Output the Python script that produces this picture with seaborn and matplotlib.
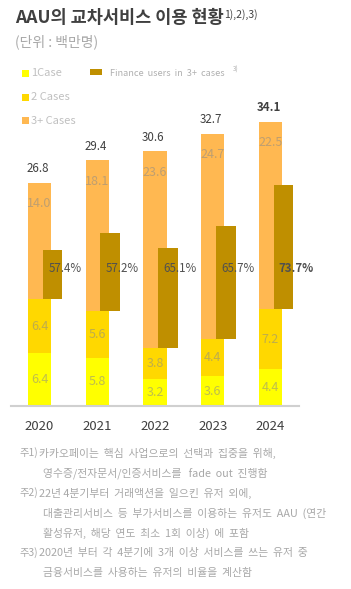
import matplotlib

matplotlib.use("Agg")
import matplotlib.pyplot as plt
import numpy as np
import seaborn as sns
from matplotlib.patches import Rectangle

# ==============================================================================
# DATA (unit: million users)
# ==============================================================================
years = ["2020", "2021", "2022", "2023", "2024"]
one_case = [6.4, 5.8, 3.2, 3.6, 4.4]
two_cases = [6.4, 5.6, 3.8, 4.4, 7.2]
three_plus = [14.0, 18.1, 23.6, 24.7, 22.5]
totals = [26.8, 29.4, 30.6, 32.7, 34.1]
finance_pct = [57.4, 57.2, 65.1, 65.7, 73.7]
# length of the finance marker bar as drawn in the source (stack units)
finance_len = [5.9, 9.4, 12.0, 13.6, 15.0]

legend_labels = ["1Case", "2 Cases", "3+ Cases"]
finance_label = "Finance  users  in  3+  cases"

title = "AAU의 교차서비스 이용 현황"
title_sup = "1),2),3)"
subtitle = "(단위 : 백만명)"
notes = [
    ("주1)", "카카오페이는  핵심  사업으로의  선택과  집중을  위해,"),
    ("", "영수증/전자문서/인증서비스를   fade  out  진행함"),
    ("주2)", "22년 4분기부터  거래액션을  일으킨  유저  외에,"),
    ("", "대출관리서비스  등  부가서비스를  이용하는  유저도  AAU  (연간"),
    ("", "활성유저,  해당  연도  최소  1회  이상)  에  포함"),
    ("주3)", "2020년  부터  각  4분기에  3개  이상  서비스를  쓰는  유저  중"),
    ("", "금융서비스를  사용하는  유저의  비율을  계산함"),
]

# ==============================================================================
# STYLE
# ==============================================================================
C_ONE = "#FFFF00"
C_TWO = "#FFD800"
C_THREE = "#FFB851"
C_FIN = "#BF8F00"
W, H = 351, 589

sns.set_theme(style="white")
plt.rcParams["font.family"] = ["Noto Sans CJK KR", "DejaVu Sans"]


def fx(px):
    return px / W


def fy(py):
    return 1 - py / H


fig = plt.figure(figsize=(W / 100, H / 100), dpi=100)
ax = fig.add_axes([fx(11), 183 / H, 288 / W, 333 / H])

one = np.array(one_case)
c2 = one + np.array(two_cases)
c3 = c2 + np.array(three_plus)

# stacked bars drawn back to front (cumulative heights)
for vals, col in [(c3, C_THREE), (c2, C_TWO), (one, C_ONE)]:
    sns.barplot(
        x=years, y=vals, color=col, width=0.4, saturation=1,
        linewidth=0, ax=ax,
    )

# finance users marker bars, floating on top of the 2-case segment
pos = np.arange(len(years))
ax.bar(pos + 0.225, finance_len, bottom=c2, width=0.34, color=C_FIN,
       linewidth=0, zorder=3)

seg_txt = dict(ha="center", va="center", fontsize=9, color="#8a8a8a",
               alpha=0.55, zorder=4)
for i in range(len(years)):
    ax.text(i, one[i] / 2, f"{one_case[i]:.1f}", **seg_txt)
    ax.text(i, (one[i] + c2[i]) / 2, f"{two_cases[i]:.1f}", **seg_txt)
    ax.text(i, c3[i] - 2.5, f"{three_plus[i]:.1f}", **seg_txt)
    ax.text(i - 0.03, c3[i] + 1.7, f"{totals[i]:.1f}", ha="center",
            va="center", fontsize=8.3, color="#404040",
            fontweight="bold" if i == len(years) - 1 else "normal")
    ax.text(i + 0.44, 16.5, f"{finance_pct[i]:.1f}%", ha="center",
            va="center", fontsize=8.3, color="#505050", zorder=5,
            fontweight="bold" if i == len(years) - 1 else "normal")

ax.set_xlim(-0.494, 4.494)
ax.set_ylim(0, 40)
ax.set_ylabel("")
ax.set_yticks([])
ax.tick_params(axis="x", length=0, pad=10, labelsize=9.5, labelcolor="#404040")
sns.despine(ax=ax, left=True)
ax.spines["bottom"].set_color("#d0d0d0")
ax.spines["bottom"].set_linewidth(1.5)

# title block
fig.text(fx(15), fy(18), title, fontsize=12.6, fontweight="bold",
         color="#404040", va="center")
fig.text(fx(224), fy(15), title_sup, fontsize=7.5, color="#404040",
         va="center")
fig.text(fx(15), fy(42), subtitle, fontsize=10, color="#a8a8a8", va="center")

# legend
for (label, col, y) in zip(legend_labels, [C_ONE, C_TWO, C_THREE],
                           [73, 97, 121]):
    fig.add_artist(Rectangle((fx(22), fy(y + 3.5)), 7 / W, 7 / H,
                             transform=fig.transFigure, color=col, lw=0))
    fig.text(fx(31), fy(y), label, fontsize=8, color="#c0c0c0", va="center")
fig.add_artist(Rectangle((fx(90), fy(75)), 12 / W, 6 / H,
                         transform=fig.transFigure, color=C_FIN, lw=0))
fig.text(fx(110), fy(73), finance_label, fontsize=6.6, color="#b0b0b0",
         va="center")
fig.text(fx(233), fy(70), "3)", fontsize=4.5, color="#b0b0b0", va="center")

# footnotes
for k, (head, body) in enumerate(notes):
    y = fy(453 + k * 20)
    if head:
        fig.text(fx(20), y, head, fontsize=7.4, color="#a8a8a8", va="center")
        fig.text(fx(39), y, body, fontsize=7.8, color="#a8a8a8", va="center")
    else:
        fig.text(fx(43), y, body, fontsize=7.8, color="#a8a8a8", va="center")

fig.savefig("out.png", dpi=100)
